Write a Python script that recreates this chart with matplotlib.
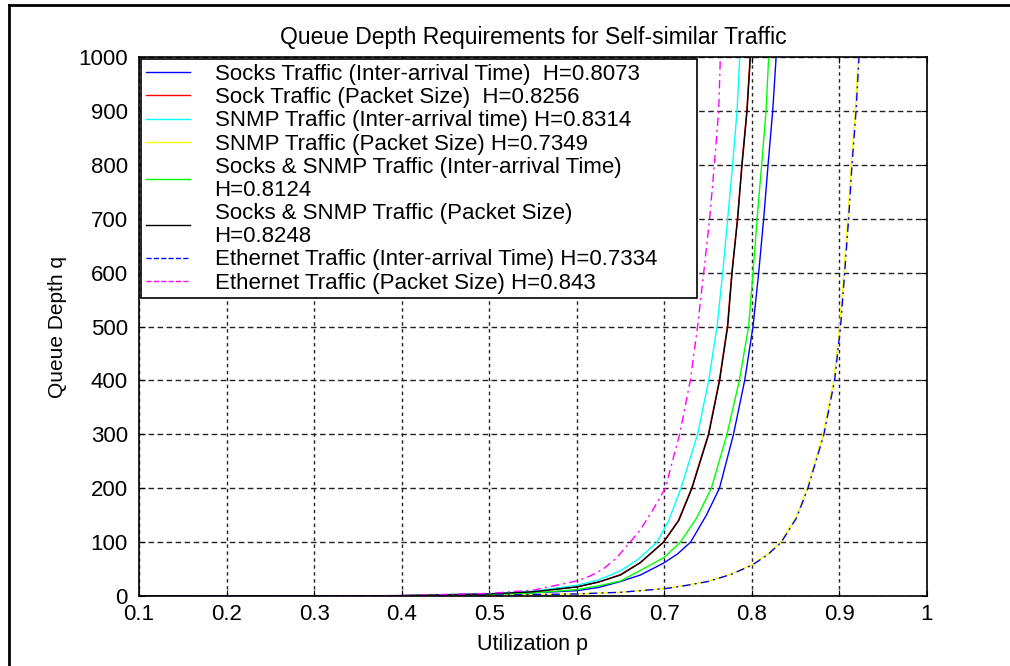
import matplotlib
matplotlib.use('Agg')
import matplotlib.pyplot as plt
from matplotlib.lines import Line2D

plt.rcParams['font.family'] = ['Liberation Sans', 'DejaVu Sans']

# 点 (利用率 p, 队列深度 q)
socks_ia_p = [0.1, 0.2, 0.3, 0.4, 0.5, 0.55, 0.6, 0.625, 0.65, 0.6726, 0.699, 0.715, 0.730,
              0.748, 0.763, 0.779, 0.7918, 0.8013, 0.8078, 0.8135, 0.8185, 0.8238, 0.8277]
socks_ia_q = [0, 0, 0.1, 0.6, 3, 6, 10, 16, 27, 39, 61, 78, 100,
              150, 200, 300, 400, 500, 600, 700, 800, 900, 1000]

socks_ps_p = [0.1, 0.2, 0.3, 0.4, 0.5, 0.55, 0.6, 0.625, 0.65, 0.6726, 0.6988, 0.716, 0.7312,
              0.7503, 0.7628, 0.7720, 0.7771, 0.7835, 0.7885, 0.7942, 0.7980]
socks_ps_q = [0, 0, 0.1, 0.8, 4, 8, 17, 26, 40, 62, 100, 140, 200,
              300, 400, 500, 600, 700, 800, 900, 1000]

snmp_ia_p = [0.1, 0.2, 0.3, 0.4, 0.5, 0.55, 0.6, 0.625, 0.65, 0.67, 0.6916, 0.705, 0.719,
             0.738, 0.7507, 0.7602, 0.7667, 0.7724, 0.778, 0.7831, 0.7861]
snmp_ia_q = [0, 0, 0.1, 0.9, 4.5, 9, 20, 30, 47, 68, 100, 140, 200,
             300, 400, 500, 600, 700, 800, 900, 1000]

snmp_ps_p = [0.1, 0.2, 0.3, 0.4, 0.5, 0.6, 0.65, 0.701, 0.725, 0.7488, 0.775, 0.80, 0.818,
             0.8326, 0.85, 0.863, 0.8813, 0.8935, 0.9003, 0.905, 0.9095, 0.9134, 0.918, 0.9214]
snmp_ps_q = [0, 0, 0.1, 0.4, 1.5, 4, 7, 14, 20, 27, 40, 58, 78,
             100, 145, 200, 300, 400, 500, 600, 700, 800, 900, 1000]

mix_ia_p = [0.1, 0.2, 0.3, 0.4, 0.5, 0.55, 0.6, 0.625, 0.65, 0.680, 0.70, 0.7183, 0.737,
            0.7537, 0.7716, 0.7857, 0.7963, 0.8013, 0.806, 0.8112, 0.8162, 0.8192]
mix_ia_q = [0, 0, 0.1, 0.7, 3, 6, 12, 19, 28, 54, 72, 100, 145,
            200, 300, 400, 500, 600, 700, 800, 900, 1000]

mix_ps_p = [0.1, 0.2, 0.3, 0.4, 0.5, 0.55, 0.6, 0.625, 0.65, 0.6726, 0.6992, 0.7165, 0.7316,
            0.7507, 0.7632, 0.7724, 0.7774, 0.7838, 0.7888, 0.7945, 0.7983]
mix_ps_q = [0, 0, 0.1, 0.8, 4, 8, 17, 26, 39, 62, 100, 140, 200,
            300, 400, 500, 600, 700, 800, 900, 1000]

eth_ia_p = [0.1, 0.2, 0.3, 0.4, 0.5, 0.6, 0.65, 0.702, 0.726, 0.7498, 0.776, 0.801, 0.819,
            0.8336, 0.851, 0.864, 0.8823, 0.8945, 0.9013, 0.906, 0.9105, 0.9144, 0.919, 0.9224]
eth_ia_q = [0, 0, 0.1, 0.4, 1.5, 4, 7, 14, 20, 27, 40, 58, 78,
            100, 145, 200, 300, 400, 500, 600, 700, 800, 900, 1000]

eth_ps_p = [0.1, 0.2, 0.3, 0.4, 0.5, 0.55, 0.6, 0.615, 0.63, 0.645, 0.661, 0.6726, 0.687,
            0.7011, 0.7175, 0.7297, 0.738, 0.745, 0.7518, 0.7571, 0.7621, 0.764]
eth_ps_q = [0, 0, 0.1, 1, 5, 11, 28, 37, 50, 70, 100, 123, 160,
            200, 300, 400, 500, 600, 700, 800, 900, 1000]

labels = ['Socks Traffic (Inter-arrival Time)  H=0.8073',
          'Sock Traffic (Packet Size)  H=0.8256',
          'SNMP Traffic (Inter-arrival time) H=0.8314',
          'SNMP Traffic (Packet Size) H=0.7349',
          'Socks & SNMP Traffic (Inter-arrival Time)\nH=0.8124',
          'Socks & SNMP Traffic (Packet Size)\nH=0.8248',
          'Ethernet Traffic (Inter-arrival Time) H=0.7334',
          'Ethernet Traffic (Packet Size) H=0.843']

fig = plt.figure(figsize=(10.1, 6.66), dpi=100)
ax = fig.add_axes([0.1376, 0.105, 0.7802, 0.8095])

dashdot = (0, (6, 3, 1.5, 3))
ax.plot(socks_ia_p, socks_ia_q, color='#0000FF', lw=1, label=labels[0])
ax.plot(socks_ps_p, socks_ps_q, color='#FF0000', lw=1, label=labels[1])
ax.plot(snmp_ia_p, snmp_ia_q, color='#00FFFF', lw=1, label=labels[2])
ax.plot(snmp_ps_p, snmp_ps_q, color='#FFFF00', lw=1, label=labels[3])
ax.plot(mix_ia_p, mix_ia_q, color='#00FF00', lw=1, label=labels[4])
ax.plot(mix_ps_p, mix_ps_q, color='#000000', lw=1, label=labels[5])
ax.plot(eth_ia_p, eth_ia_q, color='#0000FF', lw=1, ls=dashdot, label=labels[6])
ax.plot(eth_ps_p, eth_ps_q, color='#FF00FF', lw=1, ls=dashdot, label=labels[7])

ax.set_xlim(0.1, 1)
ax.set_ylim(0, 1000)
ax.set_xticks([0.1, 0.2, 0.3, 0.4, 0.5, 0.6, 0.7, 0.8, 0.9, 1.0])
ax.set_xticklabels(['0.1', '0.2', '0.3', '0.4', '0.5', '0.6', '0.7', '0.8', '0.9', '1'])
ax.set_yticks(range(0, 1001, 100))
ax.tick_params(direction='in', length=4, labelsize=16, top=True, right=True)
ax.tick_params(axis='y', pad=8)
ax.tick_params(axis='x', pad=6)

# 网格 (MATLAB 风格虚线)
ax.xaxis.grid(True, color='#222222', lw=1, ls=(0, (2.5, 2.5)))
ax.yaxis.grid(True, color='#222222', lw=1, ls=(0, (4, 2.5)))
for s in ax.spines.values():
    s.set_linewidth(1.2)

ax.set_title('Queue Depth Requirements for Self-similar Traffic', fontsize=16.5, pad=9)
ax.set_xlabel('Utilization p', fontsize=15.5, labelpad=6)
ax.set_ylabel('Queue Depth q', fontsize=15, labelpad=8)

handles = [Line2D([], [], color=l.get_color(), lw=1, ls='--' if i >= 6 else '-')
           for i, l in enumerate(ax.get_lines())]
leg = ax.legend(handles, labels, loc='upper left', bbox_to_anchor=(0, 1, 0.711, 0),
                mode='expand', fontsize=16,
                fancybox=False, framealpha=1, edgecolor='black', borderaxespad=0.1,
                labelspacing=0.11, handlelength=2.0, handletextpad=1.1, borderpad=0.2)
for t in leg.get_texts():
    t.set_linespacing(1.1)
leg.get_frame().set_linewidth(1.2)

# 外框 (左边和上边)
fig.add_artist(Line2D([0.009, 0.009], [0, 0.992], color='black', lw=2, transform=fig.transFigure))
fig.add_artist(Line2D([0.009, 1], [0.992, 0.992], color='black', lw=2, transform=fig.transFigure))

plt.savefig('out.png', dpi=100)
